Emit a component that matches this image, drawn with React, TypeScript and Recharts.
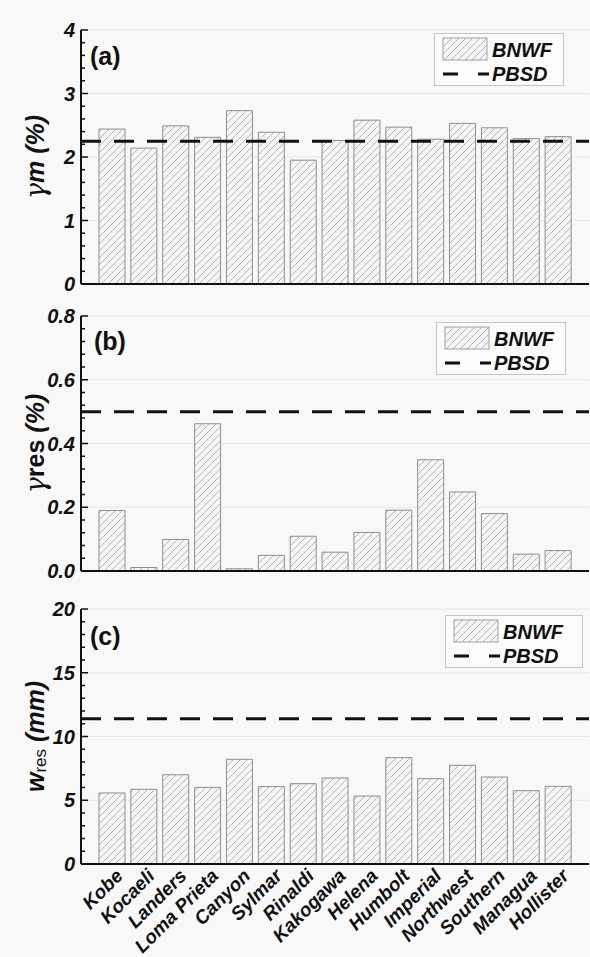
import React from "react";
import {
  Bar,
  BarChart,
  CartesianGrid,
  Label,
  Legend,
  ReferenceLine,
  XAxis,
  YAxis,
} from "recharts";

// earthquake records
const categories = [
  "Kobe", "Kocaeli", "Landers", "Loma Prieta", "Canyon", "Sylmar", "Rinaldi", "Kakogawa",
  "Helena", "Humbolt", "Imperial", "Northwest", "Southern", "Managua", "Hollister",
];

// BNWF results
const gammaM = [2.44, 2.14, 2.49, 2.31, 2.73, 2.39, 1.95, 2.26, 2.58, 2.47, 2.28, 2.53, 2.46, 2.29, 2.32];
const gammaRes = [0.19, 0.011, 0.099, 0.462, 0.007, 0.049, 0.109, 0.059, 0.121, 0.191, 0.349, 0.248, 0.18, 0.053, 0.064];
const wRes = [5.57, 5.86, 7.0, 6.01, 8.21, 6.07, 6.3, 6.75, 5.33, 8.34, 6.69, 7.74, 6.82, 5.75, 6.09];

// PBSD limits
const pbsdGammaM = 2.25;
const pbsdGammaRes = 0.5;
const pbsdWRes = 11.4;

// y ticks (major + minor)
const majorsA = [0, 1, 2, 3, 4];
const labelsA = ["0", "1", "2", "3", "4"];
const ticksA = [0, 0.2, 0.4, 0.6, 0.8, 1, 1.2, 1.4, 1.6, 1.8, 2, 2.2, 2.4, 2.6, 2.8, 3, 3.2, 3.4, 3.6, 3.8, 4];

const majorsB = [0, 0.2, 0.4, 0.6, 0.8];
const labelsB = ["0.0", "0.2", "0.4", "0.6", "0.8"];
const ticksB = [0, 0.04, 0.08, 0.12, 0.16, 0.2, 0.24, 0.28, 0.32, 0.36, 0.4, 0.44, 0.48, 0.52, 0.56, 0.6, 0.64, 0.68, 0.72, 0.76, 0.8];

const majorsC = [0, 5, 10, 15, 20];
const labelsC = ["0", "5", "10", "15", "20"];
const ticksC = [0, 1, 2, 3, 4, 5, 6, 7, 8, 9, 10, 11, 12, 13, 14, 15, 16, 17, 18, 19, 20];

const FONT = '"Liberation Sans", Arial, Helvetica, sans-serif';

function majorIndex(v: number, majors: number[]) {
  return majors.findIndex((m) => Math.abs(m - v) < 1e-6);
}

function Hatch({ id }: { id: string }) {
  return (
    <pattern id={id} patternUnits="userSpaceOnUse" width={7} height={7}>
      <rect width={7} height={7} fill="#f5f5f5" />
      <path d="M-1,1 L1,-1 M0,7 L7,0 M6,8 L8,6" stroke="#b6b6b6" strokeWidth={1} />
    </pattern>
  );
}

function LegendBox({ width, hatchId }: { width: number; hatchId: string }) {
  return (
    <div
      style={{
        width,
        height: 53,
        boxSizing: "border-box",
        border: "1px solid #c4c4c4",
        background: "#fbfbfb",
      }}
    >
      <svg width={width - 2} height={51} style={{ display: "block" }}>
        <defs>
          <Hatch id={hatchId} />
        </defs>
        <rect x={8} y={4} width={44} height={22} fill={`url(#${hatchId})`} stroke="#a0a0a0" />
        <text x={57} y={23} fontFamily={FONT} fontWeight="bold" fontStyle="italic" fontSize={20} fill="#111">
          BNWF
        </text>
        <line x1={8} x2={54} y1={40} y2={40} stroke="#111" strokeWidth={3} strokeDasharray="15 20" />
        <text x={57} y={47} fontFamily={FONT} fontWeight="bold" fontStyle="italic" fontSize={20} fill="#111">
          PBSD
        </text>
      </svg>
    </div>
  );
}

type PanelProps = {
  tag: string;
  tagPos: [number, number];
  top: number;
  height: number;
  marginTop: number;
  xHeight: number;
  showX: boolean;
  values: number[];
  pbsd: number;
  ticks: number[];
  majors: number[];
  labels: string[];
  domain: [number, number];
  title: "gm" | "gres" | "wres";
  legendPos: [number, number];
  legendWidth: number;
  id: string;
};

function YTitle({ viewBox, kind }: any) {
  const cx = viewBox.x + 35;
  const cy = viewBox.y + viewBox.height / 2;
  const base = { fontFamily: FONT, fontWeight: "bold" as const, fontStyle: "italic" as const };
  return (
    <text x={cx} y={cy} transform={`rotate(-90, ${cx}, ${cy})`} textAnchor="middle" dominantBaseline="central" fontSize={25} fill="#111" {...base}>
      {kind === "wres" ? (
        <>
          <tspan>w</tspan>
          <tspan fontSize={17} dy={5} fontWeight="normal" fontStyle="normal">res</tspan>
          <tspan dy={-5}> (mm)</tspan>
        </>
      ) : (
        <>
          <tspan fontFamily='"DejaVu Serif", serif' fontWeight="normal" fontSize={27}>γ</tspan>
          {kind === "gm" ? (
            <tspan>m (%)</tspan>
          ) : (
            <>
              <tspan fontStyle="normal">res</tspan>
              <tspan> (%)</tspan>
            </>
          )}
        </>
      )}
    </text>
  );
}

function Panel(p: PanelProps) {
  const data = categories.map((name, i) => ({ name, value: p.values[i] }));
  const hatchId = `hatch-${p.id}`;

  const leftTick = (t: any) => {
    const idx = majorIndex(t.payload.value, p.majors);
    const major = idx >= 0;
    return (
      <g>
        <line x1={t.x} x2={t.x + (major ? 7 : 4)} y1={t.y} y2={t.y} stroke="#111" strokeWidth={1.5} />
        {major && (
          <text x={t.x - 6} y={t.y} dy="0.36em" textAnchor="end" fontFamily={FONT} fontWeight="bold" fontStyle="italic" fontSize={20} fill="#111">
            {p.labels[idx]}
          </text>
        )}
      </g>
    );
  };

  const rightTick = (t: any) => {
    const major = majorIndex(t.payload.value, p.majors) >= 0;
    return <line x1={t.x} x2={t.x - (major ? 7 : 4)} y1={t.y} y2={t.y} stroke="#111" strokeWidth={1.5} />;
  };

  const catTick = (t: any) => {
    const ax = t.x + 12;
    const ay = t.y + 13;
    return (
      <text x={ax} y={ay} textAnchor="end" transform={`rotate(-45, ${ax}, ${ay})`} fontFamily={FONT} fontWeight="bold" fontStyle="italic" fontSize={19} fill="#111">
        {t.payload.value}
      </text>
    );
  };

  return (
    <div style={{ position: "absolute", left: 0, top: p.top, width: 590, height: p.height }}>
      <BarChart
        width={590}
        height={p.height}
        data={data}
        margin={{ top: p.marginTop, right: 1, bottom: 0, left: 0 }}
        barSize={26}
      >
        <defs>
          <Hatch id={hatchId} />
        </defs>
        <CartesianGrid xAxisId="b" yAxisId="y" vertical={false} horizontalValues={p.majors} stroke="#e6e6e6" />
        <XAxis
          xAxisId="b"
          dataKey="name"
          padding={{ left: 15, right: 15 }}
          interval={0}
          height={p.xHeight}
          tickLine={false}
          tickSize={0}
          tickMargin={0}
          axisLine={{ stroke: "#111", strokeWidth: 2 }}
          tick={p.showX ? catTick : false}
        />
        <XAxis
          xAxisId="t"
          orientation="top"
          height={0}
          tick={false}
          tickLine={false}
          axisLine={{ stroke: "#222", strokeWidth: 1.5 }}
        />
        <YAxis
          yAxisId="y"
          width={81}
          type="number"
          domain={p.domain}
          ticks={p.ticks}
          interval={0}
          allowDataOverflow
          tickLine={false}
          tickSize={0}
          tickMargin={0}
          axisLine={{ stroke: "#111", strokeWidth: 2 }}
          tick={leftTick}
        >
          <Label content={(props: any) => <YTitle {...props} kind={p.title} />} />
        </YAxis>
        <YAxis
          yAxisId="r"
          orientation="right"
          width={0}
          type="number"
          domain={p.domain}
          ticks={p.ticks}
          interval={0}
          allowDataOverflow
          tickLine={false}
          tickSize={0}
          tickMargin={0}
          axisLine={{ stroke: "#222", strokeWidth: 1.5 }}
          tick={rightTick}
        />
        <Bar
          xAxisId="b"
          yAxisId="y"
          dataKey="value"
          name="BNWF"
          fill={`url(#${hatchId})`}
          stroke="#8e8e8e"
          strokeWidth={1}
          isAnimationActive={false}
        />
        <ReferenceLine
          xAxisId="b"
          yAxisId="y"
          y={p.pbsd}
          stroke="#111"
          strokeWidth={3}
          strokeDasharray="20 13"
        />
        <Legend
          align="center"
          verticalAlign="middle"
          content={() => <LegendBox width={p.legendWidth} hatchId={`${hatchId}-lg`} />}
          wrapperStyle={{ left: p.legendPos[0], top: p.legendPos[1], width: p.legendWidth, height: 53 }}
        />
      </BarChart>
      <div
        style={{
          position: "absolute",
          left: p.tagPos[0],
          top: p.tagPos[1],
          fontFamily: FONT,
          fontWeight: "bold",
          fontSize: 25,
          lineHeight: 1,
          color: "#111",
        }}
      >
        {p.tag}
      </div>
    </div>
  );
}

export default function App() {
  return (
    <div style={{ position: "absolute", left: 0, top: 0, width: 590, height: 957, background: "#f8f8f8", overflow: "hidden" }}>
      <Panel
        id="a"
        tag="(a)"
        tagPos={[90, 44]}
        top={0}
        height={300}
        marginTop={30}
        xHeight={16}
        showX={false}
        values={gammaM}
        pbsd={pbsdGammaM}
        ticks={ticksA}
        majors={majorsA}
        labels={labelsA}
        domain={[0, 4]}
        title="gm"
        legendPos={[434, 33]}
        legendWidth={130}
      />
      <Panel
        id="b"
        tag="(b)"
        tagPos={[94, 39]}
        top={290}
        height={300}
        marginTop={26}
        xHeight={19}
        showX={false}
        values={gammaRes}
        pbsd={pbsdGammaRes}
        ticks={ticksB}
        majors={majorsB}
        labels={labelsB}
        domain={[0, 0.8]}
        title="gres"
        legendPos={[436, 32]}
        legendWidth={130}
      />
      <Panel
        id="c"
        tag="(c)"
        tagPos={[90, 44]}
        top={580}
        height={377}
        marginTop={29}
        xHeight={93}
        showX={true}
        values={wRes}
        pbsd={pbsdWRes}
        ticks={ticksC}
        majors={majorsC}
        labels={labelsC}
        domain={[0, 20]}
        title="wres"
        legendPos={[445, 35]}
        legendWidth={138}
      />
    </div>
  );
}
